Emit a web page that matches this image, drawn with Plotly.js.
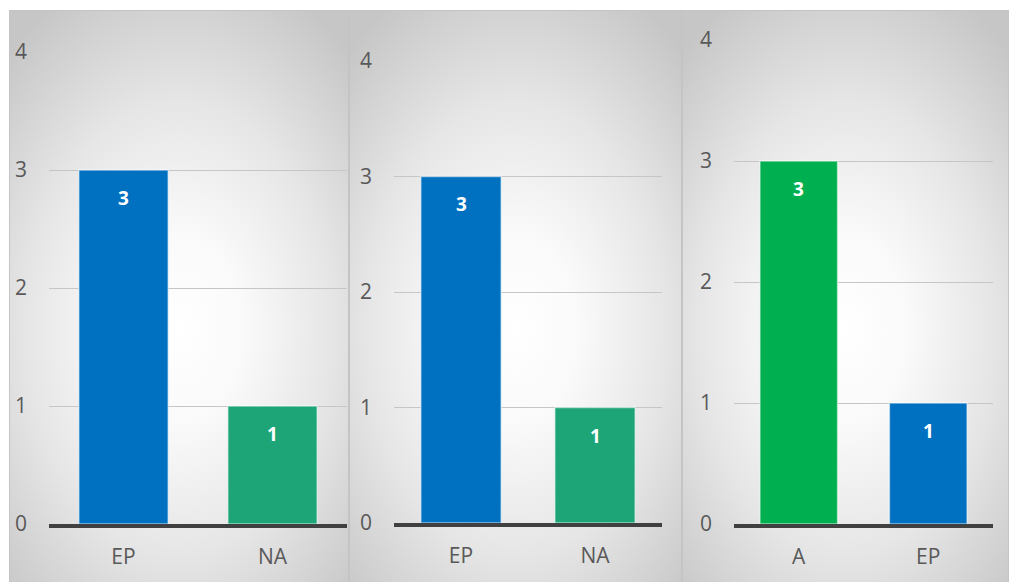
<!DOCTYPE html>
<html>
<head>
<meta charset="utf-8">
<script src="https://cdn.plot.ly/plotly-3.0.1.min.js"></script>
<style>
  html, body { margin: 0; padding: 0; background: #ffffff; }
  #wrap { position: relative; width: 1010px; height: 582px; overflow: hidden; background: #ffffff; }
  .panel { position: absolute; top: 10px; height: 580px; box-sizing: border-box;
    border: 1px solid #c4c4c4;
    background: radial-gradient(ellipse 75% 65% at 50% 55%, #ffffff 0%, #fafafa 25%, #e6e6e6 60%, #d2d2d2 85%, #c6c6c6 100%); }
  #chart { position: absolute; left: 0; top: 0; width: 1010px; height: 582px; }
</style>
</head>
<body>
<div id="wrap">
  <div class="panel" style="left:9px;width:340px;"></div>
  <div class="panel" style="left:349px;width:333px;"></div>
  <div class="panel" style="left:682px;width:327px;"></div>
  <div id="chart"></div>
</div>
<script>
// ---- data ----
const panel1Categories = ['EP', 'NA'];
const panel1Values = [3, 1];
const panel2Categories = ['EP', 'NA'];
const panel2Values = [3, 1];
const panel3Categories = ['A', 'EP'];
const panel3Values = [3, 1];
const yTickValues = [0, 1, 2, 3, 4];

// ---- styles ----
const categoryColors = { 'EP': '#0070C0', 'NA': '#1DA577', 'A': '#00B050' };
const W = 1010, H = 582;
const FONT = 'Open Sans, Noto Sans, sans-serif';
const panels = [
  { cats: panel1Categories, vals: panel1Values, x0: 49, x1: 347, yZero: 524, yTop: 52 },
  { cats: panel2Categories, vals: panel2Values, x0: 394, x1: 662, yZero: 523, yTop: 61 },
  { cats: panel3Categories, vals: panel3Values, x0: 734, x1: 993, yZero: 524, yTop: 40 }
];

const traces = [];
const annotations = [];
const layout = {
  width: W, height: H,
  margin: { l: 0, r: 0, t: 0, b: 0, pad: 0 },
  paper_bgcolor: 'rgba(0,0,0,0)',
  plot_bgcolor: 'rgba(0,0,0,0)',
  showlegend: false,
  bargap: 0.4,
  font: { family: FONT, color: '#595959', size: 21 }
};

panels.forEach((p, i) => {
  const n = i === 0 ? '' : String(i + 1);
  const xa = 'x' + n, ya = 'y' + n;
  traces.push({
    type: 'bar',
    x: p.cats, y: p.vals,
    xaxis: xa, yaxis: ya,
    width: 0.6,
    marker: { color: p.cats.map(c => categoryColors[c]), line: { color: 'rgba(255,255,255,0.55)', width: 1.5 } },
    hoverinfo: 'x+y'
  });
  p.cats.forEach((c, k) => {
    annotations.push({
      xref: xa, yref: ya, x: c, y: p.vals[k],
      text: '<b>' + p.vals[k] + '</b>', showarrow: false,
      yanchor: 'middle', yshift: -28,
      font: { family: FONT, size: 19, color: '#ffffff' }
    });
  });
  layout['xaxis' + n] = {
    domain: [p.x0 / W, p.x1 / W],
    anchor: ya,
    type: 'category',
    showgrid: false,
    showline: true, linecolor: '#404040', linewidth: 3.5,
    ticks: '', ticklabelstandoff: 11,
    tickfont: { family: FONT, size: 21, color: '#595959' },
    fixedrange: true
  };
  layout['yaxis' + n] = {
    domain: [(H - p.yZero) / H, (H - p.yTop) / H],
    anchor: xa,
    range: [0, 4],
    tickvals: yTickValues,
    showgrid: true, gridcolor: '#c6c6c6', gridwidth: 1,
    zeroline: false, showline: false,
    ticks: '', ticklabelstandoff: 21,
    tickfont: { family: FONT, size: 21, color: '#595959' },
    fixedrange: true
  };
});
layout.annotations = annotations;

Plotly.newPlot('chart', traces, layout, { displayModeBar: false, staticPlot: true });
</script>
</body>
</html>
